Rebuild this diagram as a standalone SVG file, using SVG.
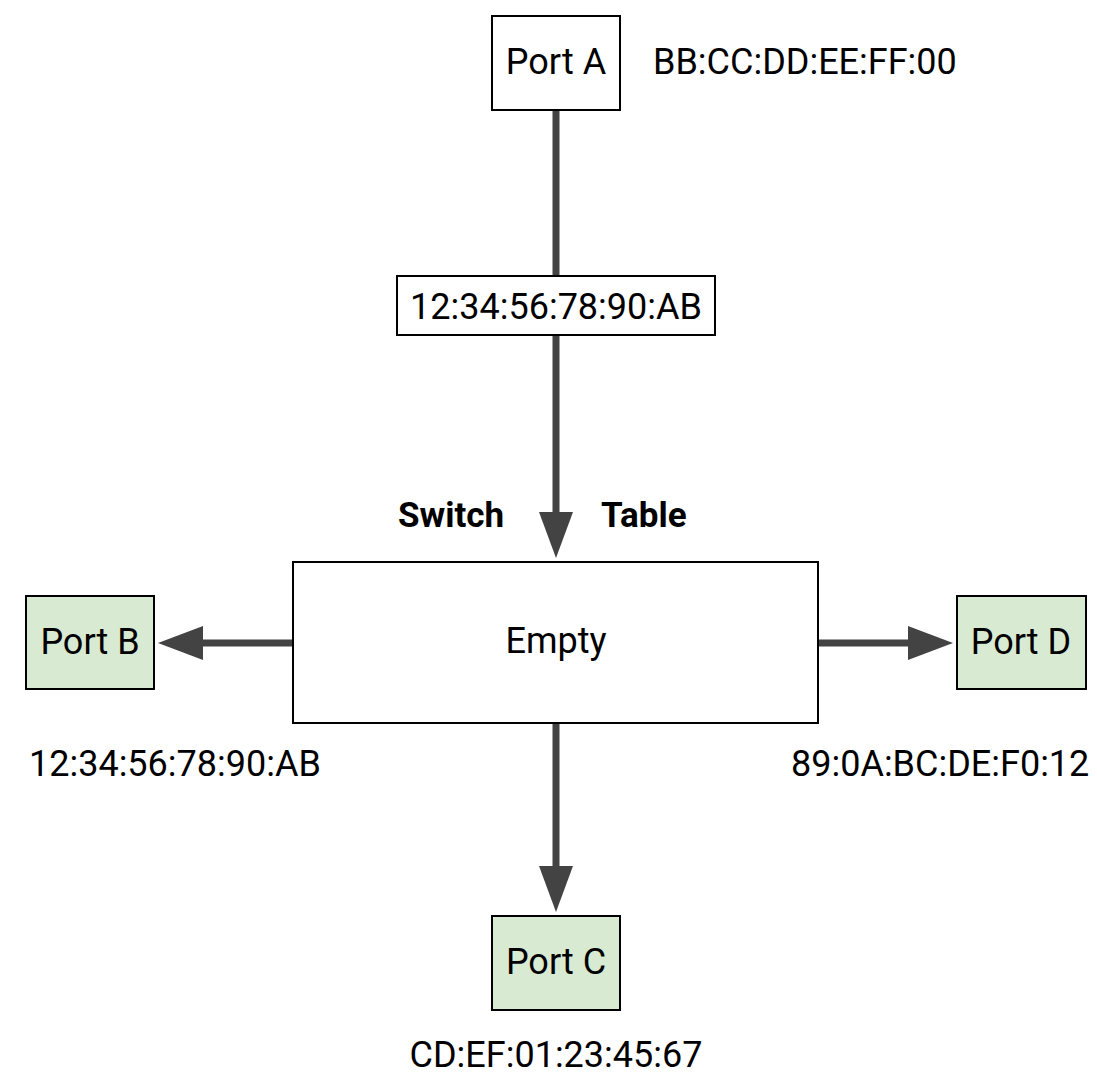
<svg xmlns="http://www.w3.org/2000/svg" width="1097" height="1074" viewBox="0 0 1097 1074">
<style>
.box{fill:#ffffff;stroke:#000000;stroke-width:2}
.port{fill:#d9ead3;stroke:#000000;stroke-width:2}
.t{font-family:Roboto,"Liberation Sans",sans-serif;font-size:36px;fill:#000000}
.b{font-weight:bold;font-size:35px}
.ln{stroke:#434343;stroke-width:7;fill:none}
.ah{fill:#434343}
</style>
<rect width="1097" height="1074" fill="#ffffff"/>
<g id="connectors">
<line class="ln" x1="556" y1="110" x2="556" y2="276"/>
<line class="ln" x1="556" y1="335" x2="556" y2="514"/>
<polygon class="ah" points="539,512 573,512 556,558"/>
<line class="ln" x1="293" y1="643" x2="201" y2="643" stroke-linecap="round"/>
<polygon class="ah" points="203,626 203,660 158,643"/>
<line class="ln" x1="818" y1="643" x2="910" y2="643" stroke-linecap="round"/>
<polygon class="ah" points="908,626 908,660 953,643"/>
<line class="ln" x1="556" y1="723" x2="556" y2="868"/>
<polygon class="ah" points="539,866 573,866 556,912"/>
</g>
<g id="portA">
<rect class="box" x="492" y="16" width="128" height="94"/>
<text class="t" x="556" y="74" text-anchor="middle">Port A</text>
</g>
<text class="t" x="653" y="74">BB:CC:DD:EE:FF:00</text>
<g id="label">
<rect class="box" x="397" y="276" width="318" height="59"/>
<text class="t" x="556" y="319" text-anchor="middle">12:34:56:78:90:AB</text>
</g>
<text class="t b" x="398" y="527">Switch</text>
<text class="t b" x="601" y="527">Table</text>
<g id="switch">
<rect class="box" x="293" y="562" width="525" height="161"/>
<text class="t" x="556" y="653" text-anchor="middle">Empty</text>
</g>
<g id="portB">
<rect class="port" x="26" y="596" width="128" height="93"/>
<text class="t" x="90" y="654" text-anchor="middle">Port B</text>
</g>
<text class="t" x="29" y="776">12:34:56:78:90:AB</text>
<g id="portD">
<rect class="port" x="957" y="596" width="129" height="93"/>
<text class="t" x="1021" y="654" text-anchor="middle">Port D</text>
</g>
<text class="t" x="791" y="776">89:0A:BC:DE:F0:12</text>
<g id="portC">
<rect class="port" x="492" y="916" width="128" height="94"/>
<text class="t" x="556" y="974" text-anchor="middle">Port C</text>
</g>
<text class="t" x="556" y="1067" text-anchor="middle">CD:EF:01:23:45:67</text>
</svg>
